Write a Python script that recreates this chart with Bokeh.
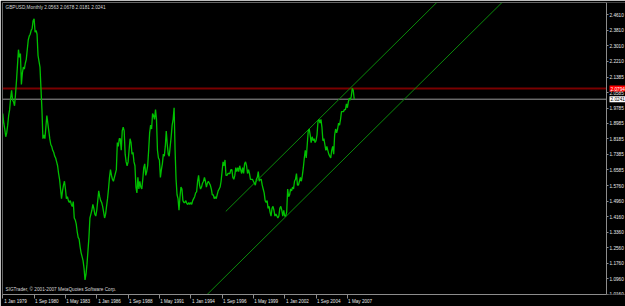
import numpy as np
from bokeh.plotting import figure
from bokeh.models import (Range1d, LinearAxis, FixedTicker, PrintfTickFormatter,
                          Label)
from bokeh.embed import file_html
from bokeh.resources import INLINE

# ---- monthly closes, GBPUSD, bar 0 = first bar on the chart ----
c1978 = [1.95, 1.90, 1.87, 1.83, 1.85, 1.89, 1.94, 1.97, 2.03, 2.07, 2.02, 2.01]
c1979 = [1.99, 2.05, 2.12, 2.20, 2.28, 2.24, 2.26, 2.10, 2.16, 2.19, 2.18, 2.21]
c1980 = [2.23, 2.28, 2.33, 2.35, 2.36, 2.38, 2.39, 2.43, 2.44, 2.37, 2.38, 2.36]
c1981 = [2.25, 2.22, 2.19, 2.08, 1.97, 1.82, 1.84, 1.82, 1.88, 1.94, 1.90, 1.86]
c1982 = [1.82, 1.79, 1.78, 1.76, 1.75, 1.73, 1.72, 1.70, 1.68, 1.64, 1.61, 1.56]
c1983 = [1.51, 1.55, 1.58, 1.60, 1.56, 1.51, 1.52, 1.50, 1.49, 1.50, 1.48, 1.47]
c1984 = [1.495, 1.41, 1.40, 1.38, 1.34, 1.31, 1.30, 1.26, 1.23, 1.21, 1.19, 1.15]
c1985 = [1.09, 1.12, 1.17, 1.24, 1.31, 1.41, 1.43, 1.45, 1.48, 1.46, 1.43, 1.42]
c1986 = [1.45, 1.50, 1.55, 1.52, 1.50, 1.49, 1.47, 1.44, 1.41, 1.43, 1.47, 1.51]
c1987 = [1.56, 1.62, 1.66, 1.63, 1.61, 1.60, 1.62, 1.64, 1.66, 1.80, 1.78, 1.82]
c1988 = [1.82, 1.76, 1.86, 1.88, 1.86, 1.74, 1.70, 1.68, 1.70, 1.76, 1.82, 1.80]
c1989 = [1.74, 1.75, 1.70, 1.68, 1.57, 1.54, 1.62, 1.56, 1.60, 1.57, 1.56, 1.61]
c1990 = [1.67, 1.69, 1.63, 1.65, 1.68, 1.76, 1.85, 1.89, 1.87, 1.95, 1.94, 1.92]
c1991 = [1.97, 1.92, 1.76, 1.72, 1.71, 1.62, 1.66, 1.69, 1.74, 1.73, 1.78, 1.86]
c1992 = [1.79, 1.74, 1.73, 1.78, 1.83, 1.89, 1.92, 1.98, 1.76, 1.61, 1.53, 1.51]
c1993 = [1.45, 1.52, 1.57, 1.56, 1.50, 1.49, 1.49, 1.50, 1.485, 1.48, 1.49, 1.48]
c1994 = [1.49, 1.48, 1.50, 1.51, 1.52, 1.54, 1.545, 1.60, 1.63, 1.58, 1.56, 1.57]
c1995 = [1.59, 1.60, 1.62, 1.60, 1.57, 1.59, 1.60, 1.59, 1.58, 1.56, 1.53, 1.53]
c1996 = [1.51, 1.52, 1.51, 1.53, 1.55, 1.56, 1.57, 1.60, 1.65, 1.70, 1.68, 1.71]
c1997 = [1.63, 1.63, 1.64, 1.64, 1.64, 1.66, 1.66, 1.62, 1.61, 1.63, 1.67, 1.65]
c1998 = [1.67, 1.65, 1.68, 1.66, 1.64, 1.67, 1.64, 1.69, 1.70, 1.68, 1.64, 1.66]
c1999 = [1.64, 1.61, 1.61, 1.61, 1.60, 1.59, 1.58, 1.61, 1.62, 1.65, 1.60, 1.61]
c2000 = [1.61, 1.58, 1.56, 1.54, 1.50, 1.49, 1.50, 1.46, 1.47, 1.44, 1.42, 1.46]
c2001 = [1.47, 1.45, 1.42, 1.43, 1.42, 1.41, 1.42, 1.46, 1.47, 1.45, 1.42, 1.45]
c2002 = [1.42, 1.42, 1.44, 1.56, 1.52, 1.53, 1.56, 1.55, 1.57, 1.56, 1.60, 1.61]
c2003 = [1.64, 1.58, 1.58, 1.60, 1.62, 1.60, 1.63, 1.67, 1.72, 1.76, 1.72, 1.79]
c2004 = [1.86, 1.87, 1.84, 1.80, 1.83, 1.81, 1.82, 1.80, 1.81, 1.84, 1.91, 1.92]
c2005 = [1.90, 1.92, 1.88, 1.81, 1.82, 1.79, 1.76, 1.78, 1.76, 1.74, 1.73, 1.72]
c2006 = [1.76, 1.78, 1.74, 1.84, 1.87, 1.85, 1.87, 1.90, 1.89, 1.92, 1.96, 1.96]
c2007 = [1.96, 1.97, 1.97, 2.00, 1.98, 2.01, 2.03, 2.02, 2.04, 2.08, 2.07, 2.0241]

years = [c1978, c1979, c1980, c1981, c1982, c1983, c1984, c1985, c1986, c1987,
         c1988, c1989, c1990, c1991, c1992, c1993, c1994, c1995, c1996, c1997,
         c1998, c1999, c2000, c2001, c2002, c2003, c2004, c2005, c2006, c2007]
closes = np.concatenate([np.array(y, dtype=float) for y in years])
bars = np.arange(len(closes))

# ---- axes ----
y_tick_values = [2.4610, 2.3810, 2.3010, 2.2210, 2.1385, 2.0585, 1.9785, 1.8985,
                 1.8185, 1.7385, 1.6585, 1.5760, 1.4960, 1.4160, 1.3360, 1.2560,
                 1.1760, 1.0960, 1.0160]
x_tick_bars = [0, 32, 64, 96, 128, 160, 192, 224, 256, 288, 320, 352]
x_tick_labels = ["1 Jan 1979", "1 Sep 1980", "1 May 1983", "1 Jan 1986",
                 "1 Sep 1988", "1 May 1991", "1 Jan 1994", "1 Sep 1996",
                 "1 May 1999", "1 Jan 2002", "1 Sep 2004", "1 May 2007"]

# ---- drawn objects ----
channel_anchor_bars = [227.8, 355.5]
channel_anchor_prices = [1.444, 2.084]
channel_width = 0.334
channel_lower_start_bar = 190
red_level = 2.0794
last_close = 2.0241
title_text = "GBPUSD,Monthly  2.0563 2.0678 2.0181 2.0241"
copyright_text = "SIGTrader, \u00a9 2001-2007 MetaQuotes Software Corp."

# ---- layout constants ----
X0 = -0.3            # left edge of the chart area (bars)
X_AXIS = 616.7       # bar value where the price scale sits
X1 = 636.1           # right edge of the canvas (bars)
Y0, Y1 = 1.0145, 2.524
LABEL_SHIFT = 13     # bars: date labels start just right of their tick
FONT = "Liberation Sans"
FS_Y = "4.7px"
FS_X = "4.6px"
GRAY = "#8c8c8c"
TXT = "#e8e8e8"

p = figure(width=625, height=306, x_range=Range1d(X0, X1), y_range=Range1d(Y0, Y1),
           output_backend="svg", toolbar_location=None,
           x_axis_location=None, y_axis_location=None,
           min_border_left=2, min_border_top=2, min_border_right=0,
           min_border_bottom=9)
p.background_fill_color = "#000000"
p.border_fill_color = "#000000"
p.outline_line_color = None
p.xgrid.visible = False
p.ygrid.visible = False


def bare(axis):
    axis.major_label_text_font_size = "0px"
    axis.major_label_text_color = None
    axis.major_label_standoff = 0
    axis.major_tick_in = 0
    axis.minor_tick_line_color = None
    return axis


# price scale, fixed at the right edge of the chart area
yaxis = LinearAxis(ticker=FixedTicker(ticks=y_tick_values),
                   formatter=PrintfTickFormatter(format="%.4f"),
                   fixed_location=X_AXIS)
yaxis.axis_line_color = GRAY
yaxis.major_tick_line_color = GRAY
yaxis.major_tick_out = 2
yaxis.major_tick_in = 0
yaxis.minor_tick_line_color = None
yaxis.major_label_standoff = 1
yaxis.major_label_text_font = FONT
yaxis.major_label_text_font_size = FS_Y
yaxis.major_label_text_color = TXT
p.add_layout(yaxis, "right")

# left and top borders of the chart area
left_border = bare(LinearAxis(ticker=FixedTicker(ticks=[]), fixed_location=X0))
left_border.axis_line_color = GRAY
p.add_layout(left_border, "left")
top_border = bare(LinearAxis(ticker=FixedTicker(ticks=[]), fixed_location=Y1,
                             bounds=(X0, X_AXIS)))
top_border.axis_line_color = GRAY
p.add_layout(top_border, "above")

# time scale: ticks, then the date labels
xaxis = bare(LinearAxis(ticker=FixedTicker(ticks=x_tick_bars), bounds=(X0, X_AXIS)))
xaxis.axis_line_color = GRAY
xaxis.major_tick_line_color = GRAY
xaxis.major_tick_out = 4
p.add_layout(xaxis, "below")

label_pos = [b + LABEL_SHIFT for b in x_tick_bars]
xlabels = LinearAxis(ticker=FixedTicker(ticks=label_pos),
                     major_label_overrides={pos: lab for pos, lab in zip(label_pos, x_tick_labels)})
xlabels.axis_line_color = None
xlabels.major_tick_line_color = None
xlabels.major_tick_out = 0
xlabels.major_tick_in = 0
xlabels.minor_tick_line_color = None
xlabels.major_label_standoff = 0
xlabels.major_label_text_font = FONT
xlabels.major_label_text_font_size = FS_X
xlabels.major_label_text_color = TXT
p.add_layout(xlabels, "below")

# horizontal levels (chart area only)
p.line([X0, X_AXIS], [red_level, red_level], line_color="#7a0000", line_width=2)
p.line([X0, X_AXIS], [last_close, last_close], line_color="#9a9a9a", line_width=1)

# price channel
slope = (channel_anchor_prices[1] - channel_anchor_prices[0]) / (channel_anchor_bars[1] - channel_anchor_bars[0])
up_x = np.array([channel_anchor_bars[0], X_AXIS])
up_y = channel_anchor_prices[0] + slope * (up_x - channel_anchor_bars[0])
lo_x = np.array([channel_lower_start_bar, X_AXIS])
lo_y = channel_anchor_prices[0] - channel_width + slope * (lo_x - channel_anchor_bars[0])
p.line(up_x, up_y, line_color="#0a8a0a", line_width=1)
p.line(lo_x, lo_y, line_color="#0a8a0a", line_width=1)

# price line
p.line(bars, closes, line_color="#00c000", line_width=1.3)

# texts inside the chart
p.add_layout(Label(x=X0, y=Y1, x_offset=3, y_offset=-2, text=title_text,
                   text_align="left", text_baseline="top", text_font=FONT,
                   text_font_size=FS_Y, text_color="#d8d8d8"))
p.add_layout(Label(x=X0, y=Y0, x_offset=3, y_offset=3, text=copyright_text,
                   text_align="left", text_baseline="bottom", text_font=FONT,
                   text_font_size=FS_Y, text_color="#d8d8d8"))

# price boxes on the scale
for level, bg, fg in [(red_level, "#ff0000", "#ffffff"), (last_close, "#ffffff", "#000000")]:
    box = Label(x=X_AXIS, y=level, x_offset=3, text=f"{level:.4f}",
                text_align="left", text_baseline="middle", text_font=FONT,
                text_font_size=FS_Y, text_color=fg, background_fill_color=bg)
    try:
        box.padding = 1
    except Exception:
        pass
    p.add_layout(box)

open("out.html", "w").write(file_html(p, INLINE))
